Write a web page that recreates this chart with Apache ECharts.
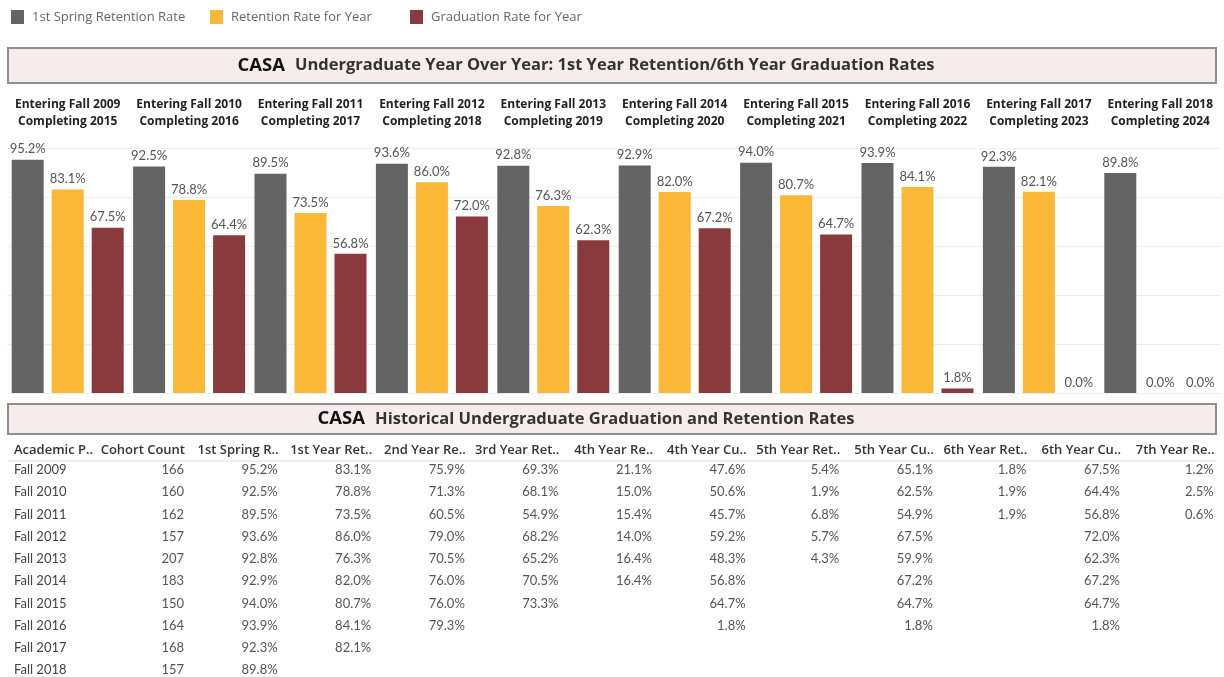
<!DOCTYPE html>
<html>
<head>
<meta charset="utf-8">
<script src="https://cdn.jsdelivr.net/npm/echarts@6/dist/echarts.min.js"></script>
<style>
  html, body { margin: 0; padding: 0; background: #fff; }
  #chart { width: 1224px; height: 677px; }
</style>
</head>
<body>
<div id="chart"></div>
<script>
// cohorts shown in the bar chart
var entering = ['Fall 2009', 'Fall 2010', 'Fall 2011', 'Fall 2012', 'Fall 2013', 'Fall 2014', 'Fall 2015', 'Fall 2016', 'Fall 2017', 'Fall 2018'];
var completing = ['2015', '2016', '2017', '2018', '2019', '2020', '2021', '2022', '2023', '2024'];

// bar values (%)
var springRate = [95.2, 92.5, 89.5, 93.6, 92.8, 92.9, 94.0, 93.9, 92.3, 89.8];
var retentionRate = [83.1, 78.8, 73.5, 86.0, 76.3, 82.0, 80.7, 84.1, 82.1, 0.0];
var graduationRate = [67.5, 64.4, 56.8, 72.0, 62.3, 67.2, 64.7, 1.8, 0.0, 0.0];

// table columns
var tableHeaders = ['Academic P..', 'Cohort Count', '1st Spring R..', '1st Year Ret..', '2nd Year Re..', '3rd Year Ret..', '4th Year Re..', '4th Year Cu..', '5th Year Ret..', '5th Year Cu..', '6th Year Ret..', '6th Year Cu..', '7th Year Re..'];
var academicPeriod = ['Fall 2009', 'Fall 2010', 'Fall 2011', 'Fall 2012', 'Fall 2013', 'Fall 2014', 'Fall 2015', 'Fall 2016', 'Fall 2017', 'Fall 2018'];
var cohortCount = [166, 160, 162, 157, 207, 183, 150, 164, 168, 157];
var spring1st = [95.2, 92.5, 89.5, 93.6, 92.8, 92.9, 94.0, 93.9, 92.3, 89.8];
var ret1st = [83.1, 78.8, 73.5, 86.0, 76.3, 82.0, 80.7, 84.1, 82.1, null];
var ret2nd = [75.9, 71.3, 60.5, 79.0, 70.5, 76.0, 76.0, 79.3, null, null];
var ret3rd = [69.3, 68.1, 54.9, 68.2, 65.2, 70.5, 73.3, null, null, null];
var ret4th = [21.1, 15.0, 15.4, 14.0, 16.4, 16.4, null, null, null, null];
var cum4th = [47.6, 50.6, 45.7, 59.2, 48.3, 56.8, 64.7, 1.8, null, null];
var ret5th = [5.4, 1.9, 6.8, 5.7, 4.3, null, null, null, null, null];
var cum5th = [65.1, 62.5, 54.9, 67.5, 59.9, 67.2, 64.7, 1.8, null, null];
var ret6th = [1.8, 1.9, 1.9, null, null, null, null, null, null, null];
var cum6th = [67.5, 64.4, 56.8, 72.0, 62.3, 67.2, 64.7, 1.8, null, null];
var ret7th = [1.2, 2.5, 0.6, null, null, null, null, null, null, null];

var FONT = 'Lato';          // numbers
var FONT_HEAD = 'Open Sans'; // headings, legend
var chart = echarts.init(document.getElementById('chart'));

var categories = entering.map(function (e, i) {
  return 'Entering ' + e + '\nCompleting ' + completing[i];
});

function pct(v) {
  return v == null ? '' : v.toFixed(1) + '%';
}

// title bar with a bold "CASA" prefix
function titleBar(y, h, text) {
  return [{
    type: 'rect',
    shape: { x: 8, y: y, width: 1208, height: h },
    style: { fill: '#f6eceb', stroke: '#8e8e8e', lineWidth: 2 }
  }, {
    type: 'text',
    x: 586, y: y + h / 2,
    style: {
      text: '{a|CASA}   {b|' + text + '}',
      align: 'center', verticalAlign: 'middle',
      rich: {
        a: { fontFamily: FONT_HEAD, fontWeight: 'bold', fontSize: 18.5, fill: '#111' },
        b: { fontFamily: FONT_HEAD, fontWeight: 'bold', fontSize: 16.5, fill: '#333' }
      }
    }
  }];
}

// table made of text cells
function buildTable() {
  var cols = [academicPeriod, cohortCount, spring1st, ret1st, ret2nd, ret3rd, ret4th, cum4th, ret5th, cum5th, ret6th, cum6th, ret7th];
  var els = [];
  var headerY = 450, rowY = 470, rowStep = 22.25;
  for (var c = 0; c < cols.length; c++) {
    var x = c === 0 ? 14 : 184 + (c - 1) * 93.6;
    var align = c === 0 ? 'left' : 'right';
    els.push({
      type: 'text', x: c === 0 ? x : x + 1, y: headerY,
      style: { text: tableHeaders[c], align: align, verticalAlign: 'middle', fontFamily: FONT_HEAD, fontSize: 13, fontWeight: 600, fill: '#333' }
    });
    for (var r = 0; r < cols[c].length; r++) {
      var v = cols[c][r];
      var txt = c === 0 ? v : (c === 1 ? String(v) : pct(v));
      if (!txt) continue;
      els.push({
        type: 'text', x: x, y: rowY + r * rowStep,
        style: { text: txt, align: align, verticalAlign: 'middle', fontFamily: FONT, fontSize: 13, fill: c === 0 ? '#444' : '#555' }
      });
    }
  }
  els.push({
    type: 'line',
    shape: { x1: 8, y1: 461, x2: 1216, y2: 461 },
    style: { stroke: '#dddddd', lineWidth: 1 }
  });
  return els;
}

function legendAt(left, name) {
  return {
    left: left, top: 10, padding: 0,
    icon: 'rect', itemWidth: 13, itemHeight: 14,
    data: [name],
    textStyle: { fontFamily: FONT_HEAD, fontSize: 13, color: '#666', padding: [0, 0, 0, 3] }
  };
}

function barSeries(name, data, color) {
  return {
    name: name,
    type: 'bar',
    data: data,
    barWidth: 32,
    barGap: '25%',
    itemStyle: { color: color },
    label: {
      show: true, position: 'top', distance: 4,
      fontFamily: FONT, fontSize: 13, color: '#555',
      formatter: function (p) { return pct(p.value); }
    }
  };
}

var option = {
  animation: false,
  textStyle: { fontFamily: FONT },
  legend: [
    legendAt(11, '1st Spring Retention Rate'),
    legendAt(210, 'Retention Rate for Year'),
    legendAt(410, 'Graduation Rate for Year')
  ],
  grid: { left: 7, right: 3, top: 148, bottom: 284 },
  xAxis: [{
    type: 'category', data: categories,
    axisLine: { show: false }, axisTick: { show: false }, axisLabel: { show: false }
  }, {
    type: 'category', data: categories, position: 'top',
    axisLine: { show: false }, axisTick: { show: false },
    axisLabel: { fontFamily: FONT_HEAD, fontWeight: 'bold', fontSize: 12, color: '#222', lineHeight: 17, margin: 18, interval: 0 }
  }],
  yAxis: {
    type: 'value', min: 0, max: 100, interval: 20,
    axisLabel: { show: false }, axisLine: { show: false }, axisTick: { show: false },
    splitLine: { lineStyle: { color: '#efefef' } }
  },
  series: [
    barSeries('1st Spring Retention Rate', springRate, '#646464'),
    barSeries('Retention Rate for Year', retentionRate, '#fbb736'),
    barSeries('Graduation Rate for Year', graduationRate, '#8a3a3d')
  ],
  graphic: titleBar(48, 35, 'Undergraduate Year Over Year: 1st Year Retention/6th Year Graduation Rates')
    .concat(titleBar(404, 30, 'Historical Undergraduate Graduation and Retention Rates'))
    .concat(buildTable())
};

chart.setOption(option);
</script>
</body>
</html>
